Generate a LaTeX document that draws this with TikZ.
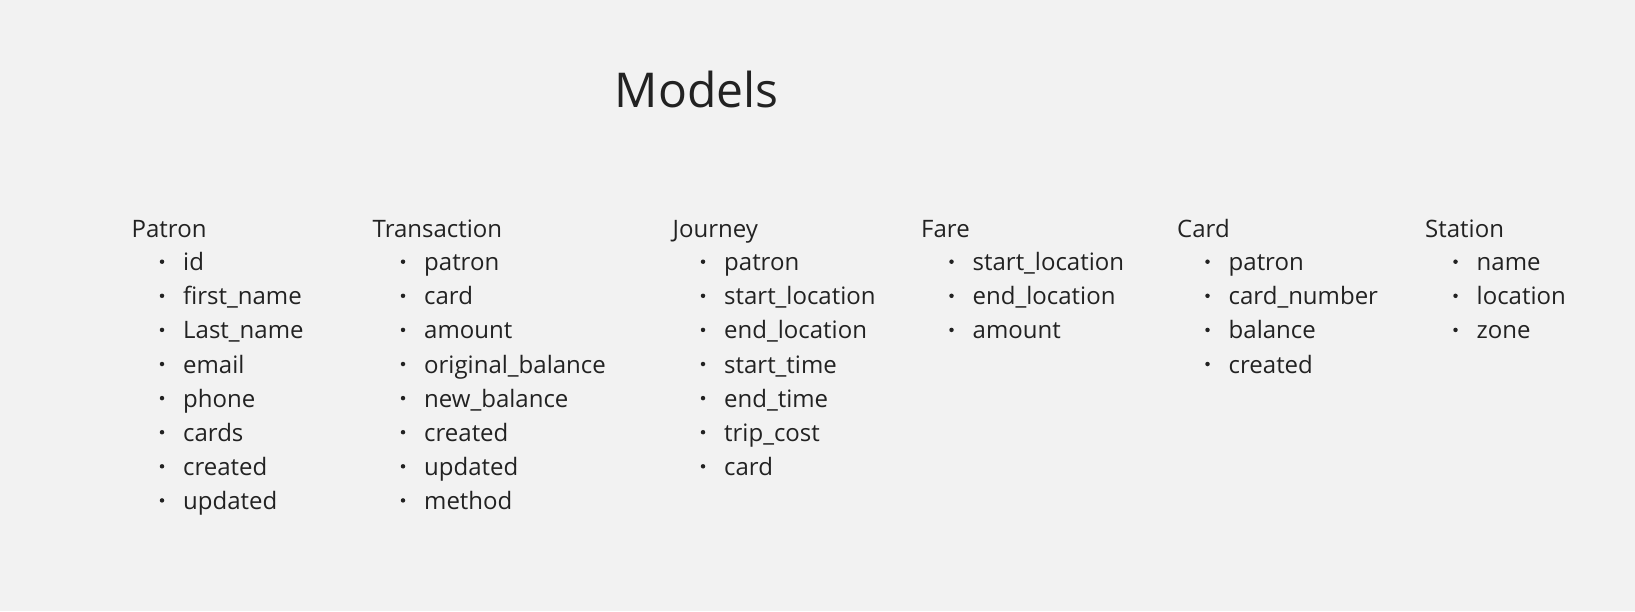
\documentclass[tikz,border=0pt]{standalone}
\usepackage{fontspec}
\setmainfont{Open Sans}
\definecolor{bg}{HTML}{F2F2F2}
\definecolor{ink}{HTML}{222222}

% One model: its name and a bulleted list of its fields
% #1 node name, #2 left x, #3 title, #4 fields
\newcommand{\modelcol}[4]{%
  \node[head] (#1) at (#2,237.3) {#3};
  \foreach \f [count=\i] in {#4} {
    \node[bulletdot] (#1-dot\i) at (#2+30.5,236.6+34.1*\i-9) {};
    \node[field] (#1-f\i) at (#2+51.5,236.6+34.1*\i) {\f};
  }%
}

\begin{document}
\begin{tikzpicture}[x=1pt,y=-1pt,
  head/.style={anchor=base west, inner sep=0pt, text=ink,
    font=\fontsize{24}{28}\selectfont},
  field/.style={head},
  bulletdot/.style={circle, fill=ink, inner sep=0pt, minimum size=4.5pt},
  titletext/.style={anchor=base west, inner sep=0pt, text=ink,
    font=\fontsize{48}{56}\selectfont}]
\fill[bg] (0,0) rectangle (1635,611);
\useasboundingbox (0,0) rectangle (1635,611);

\node[titletext] (title) at (614.5,107.3) {Models};

\modelcol{patron}{131.5}{Patron}{id,first\_name,Last\_name,email,phone,cards,created,updated}
\modelcol{transaction}{372.5}{Transaction}{patron,card,amount,original\_balance,new\_balance,created,updated,method}
\modelcol{journey}{672.5}{Journey}{patron,start\_location,end\_location,start\_time,end\_time,trip\_cost,card}
\modelcol{fare}{921}{Fare}{start\_location,end\_location,amount}
\modelcol{card}{1177}{Card}{patron,card\_number,balance,created}
\modelcol{station}{1425}{Station}{name,location,zone}
\end{tikzpicture}
\end{document}
